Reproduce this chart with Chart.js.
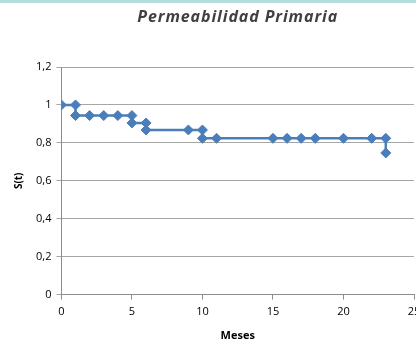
<!DOCTYPE html>
<html>
<head>
<meta charset="utf-8">
<script src="https://cdn.jsdelivr.net/npm/chart.js@4"></script>
<style>
    html, body { margin: 0; padding: 0; background: #fff; overflow: hidden; }
    #wrap { position: relative; width: 416px; height: 342px; overflow: hidden; }
    #topbar { position: absolute; left: 0; top: 0; width: 416px; height: 3px; background: #b4dde0; }
    #surv-chart { position: absolute; left: 0; top: 0; }
</style>
</head>
<body>
<div id="wrap">
    <canvas id="surv-chart" width="476" height="342"></canvas>
    <div id="topbar"></div>
</div>
<script>
// Kaplan-Meier style steps
const months   = [0, 1, 1, 2, 3, 4, 5, 5, 6, 6, 9, 10, 10, 11, 15, 16, 17, 18, 20, 22, 23, 23];
const survival = [1, 1, 0.944, 0.944, 0.944, 0.944, 0.944, 0.905, 0.905, 0.868, 0.868, 0.868,
                  0.824, 0.824, 0.824, 0.824, 0.824, 0.824, 0.824, 0.824, 0.824, 0.747];
const xTicks = [0, 5, 10, 15, 20, 25];
const yTicks = [0, 0.2, 0.4, 0.6, 0.8, 1, 1.2];
const chartTitle = 'Permeabilidad Primaria';

document.addEventListener('DOMContentLoaded', function() {
    const canvas = document.getElementById('surv-chart');
    const points = months.map(function(m, i) { return { x: m, y: survival[i] }; });
    const blue = '#4a7ebb';

    // Format with comma decimals like the original
    function commaLabel(v) {
        return String(Number(v.toFixed(1))).replace('.', ',');
    }

    // Title centred over the plot area (not the whole canvas)
    const plotTitle = {
        id: 'plotTitle',
        afterDraw: function(chart) {
            const ctx = chart.ctx;
            const area = chart.chartArea;
            ctx.save();
            ctx.font = 'italic bold 16px "Open Sans"';
            if ('letterSpacing' in ctx) ctx.letterSpacing = '0.9px';
            ctx.fillStyle = '#404040';
            ctx.textAlign = 'center';
            ctx.textBaseline = 'alphabetic';
            ctx.fillText(chartTitle, (area.left + area.right) / 2, 22);
            ctx.restore();
        }
    };

    new Chart(canvas, {
        type: 'line',
        data: {
            datasets: [{
                label: 'S(t)',
                data: points,
                borderColor: blue,
                backgroundColor: blue,
                borderWidth: 2.5,
                pointStyle: 'rectRot',
                pointRadius: 5,
                pointBorderWidth: 1,
                pointBorderColor: blue,
                pointBackgroundColor: blue,
                tension: 0,
                fill: false
            }]
        },
        plugins: [plotTitle],
        options: {
            responsive: false,
            animation: false,
            layout: { padding: { left: 13, right: 62, top: 67, bottom: 0 } },
            plugins: {
                legend: { display: false },
                tooltip: { enabled: false },
                title: { display: false }
            },
            scales: {
                x: {
                    type: 'linear',
                    min: 0,
                    max: 25,
                    afterBuildTicks: function(axis) {
                        axis.ticks = xTicks.map(function(v) { return { value: v }; });
                    },
                    border: { color: '#8c8c8c', width: 1 },
                    grid: { drawOnChartArea: false, drawTicks: true, tickLength: 5, color: '#8c8c8c' },
                    ticks: { color: '#000', padding: 6, font: { family: 'Open Sans', size: 11 } },
                    title: {
                        display: true,
                        text: 'Meses',
                        color: '#000',
                        font: { family: 'Open Sans', size: 11, weight: 'bold' },
                        padding: { top: 4, bottom: 0 }
                    }
                },
                y: {
                    min: 0,
                    max: 1.2,
                    afterBuildTicks: function(axis) {
                        axis.ticks = yTicks.map(function(v) { return { value: v }; });
                    },
                    border: { color: '#8c8c8c', width: 1 },
                    grid: { color: '#a6a6a6', tickLength: 5, lineWidth: 1 },
                    ticks: {
                        color: '#000',
                        padding: 5,
                        font: { family: 'Open Sans', size: 11 },
                        callback: function(v) { return commaLabel(v); }
                    },
                    title: {
                        display: true,
                        text: 'S(t)',
                        color: '#000',
                        font: { family: 'Open Sans', size: 10, weight: 'bold' },
                        padding: { top: 0, bottom: 6 }
                    }
                }
            }
        }
    });
});
</script>
</body>
</html>
